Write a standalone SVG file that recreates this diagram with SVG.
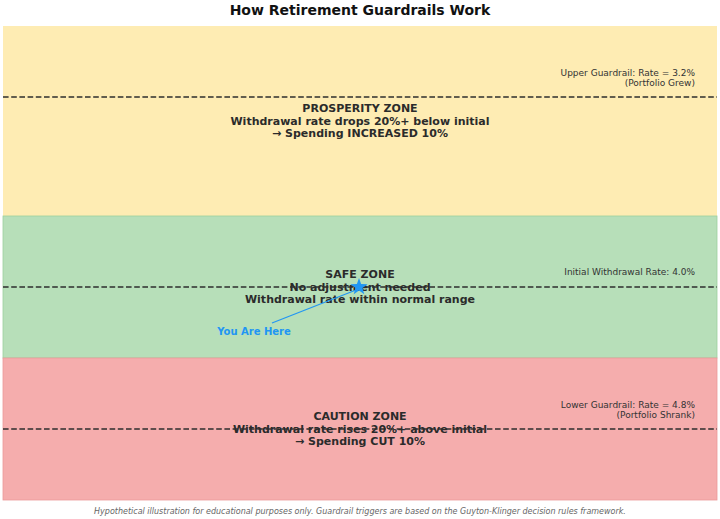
<svg xmlns="http://www.w3.org/2000/svg" width="720" height="519" viewBox="0 0 720 519">
<style>
.title{font-family:"DejaVu Sans",sans-serif;font-weight:bold;font-size:14px;fill:#111;text-anchor:middle}
.zone{font-family:"DejaVu Sans",sans-serif;font-weight:bold;font-size:11px;fill:#2b2b2b;text-anchor:middle}
.rl{font-family:"DejaVu Sans",sans-serif;font-size:9px;fill:#333;text-anchor:end}
.foot{font-family:"DejaVu Sans",sans-serif;font-style:italic;font-size:8px;fill:#666;text-anchor:middle}
.dash{stroke:#2e2e2e;stroke-width:1.6;stroke-dasharray:5.6 2.6;fill:none}
.you{font-family:"DejaVu Sans",sans-serif;font-weight:bold;font-size:10px;fill:#2196F3;text-anchor:middle}
</style>
<rect width="720" height="519" fill="#fff"/>
<text class="title" x="360" y="15">How Retirement Guardrails Work</text>
<g id="prosperity">
<rect x="3" y="26" width="714" height="190" fill="#FEECB3"/>
<text class="zone" x="360" y="112">PROSPERITY ZONE</text>
<text class="zone" x="360" y="124.5">Withdrawal rate drops 20%+ below initial</text>
<text class="zone" x="360" y="137">→ Spending INCREASED 10%</text>
<text class="rl" x="695" y="76">Upper Guardrail: Rate = 3.2%</text>
<text class="rl" x="695" y="86">(Portfolio Grew)</text>
</g>
<g id="safe">
<rect x="3" y="216" width="714" height="142" fill="#B7DFB9" stroke="#9ccf9e" stroke-width="0.8"/>
<text class="zone" x="360" y="278">SAFE ZONE</text>
<text class="zone" x="360" y="290.5">No adjustment needed</text>
<text class="zone" x="360" y="303">Withdrawal rate within normal range</text>
<text class="rl" x="695" y="275">Initial Withdrawal Rate: 4.0%</text>
</g>
<g id="caution">
<rect x="3" y="358" width="714" height="142" fill="#F5ADAD" stroke="#ec9a9a" stroke-width="0.8"/>
<text class="zone" x="360" y="420">CAUTION ZONE</text>
<text class="zone" x="360" y="432.5">Withdrawal rate rises 20%+ above initial</text>
<text class="zone" x="360" y="445">→ Spending CUT 10%</text>
<text class="rl" x="695" y="408">Lower Guardrail: Rate = 4.8%</text>
<text class="rl" x="695" y="418">(Portfolio Shrank)</text>
</g>
<g id="connectors">
<line class="dash" x1="3" y1="97" x2="717" y2="97"/>
<line class="dash" x1="3" y1="287" x2="717" y2="287"/>
<line class="dash" x1="3" y1="429" x2="717" y2="429"/>
<line x1="272" y1="323" x2="356" y2="290" stroke="#2196F3" stroke-width="1.2"/>
</g>
<g id="you-are-here">
<polygon points="359,278 361.1,284.1 367.6,284.2 362.4,288.1 364.3,294.3 359,290.6 353.7,294.3 355.6,288.1 350.4,284.2 356.9,284.1" fill="#2196F3"/>
<text class="you" x="254" y="335">You Are Here</text>
</g>
<text class="foot" x="360" y="514">Hypothetical illustration for educational purposes only. Guardrail triggers are based on the Guyton-Klinger decision rules framework.</text>
</svg>
